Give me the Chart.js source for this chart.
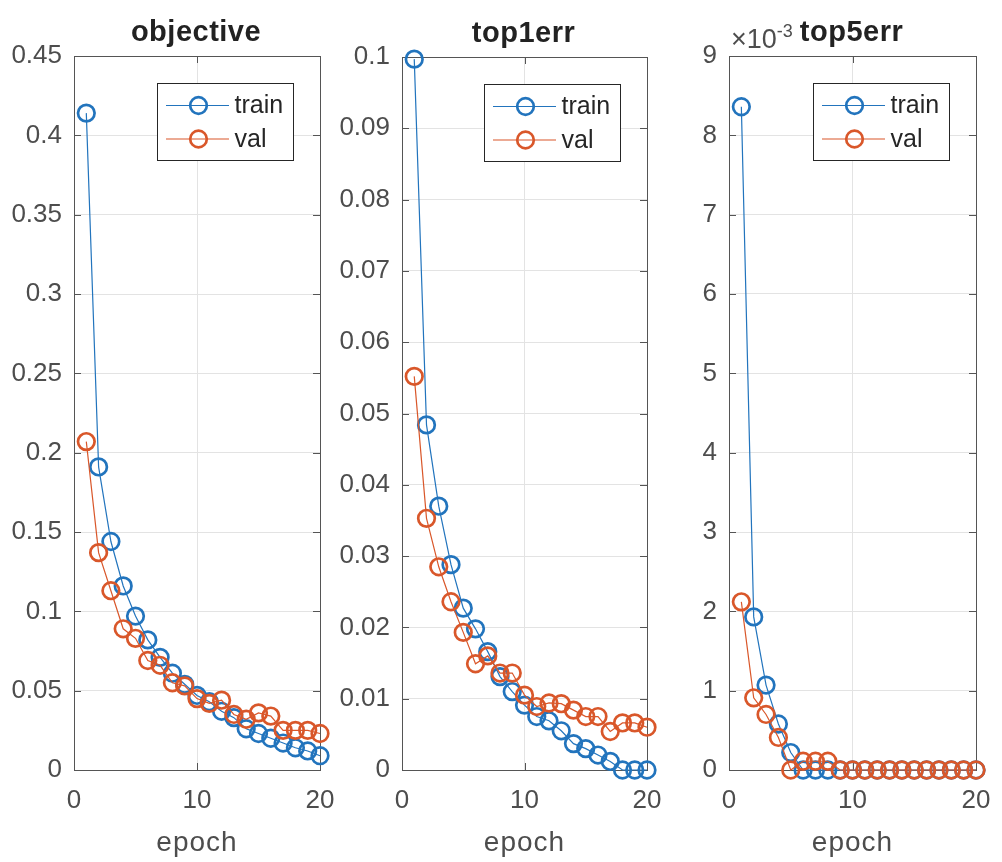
<!DOCTYPE html>
<html>
<head>
<meta charset="utf-8">
<title>objective / top1err / top5err</title>
<script src="https://cdn.jsdelivr.net/npm/chart.js@4.4.1/dist/chart.umd.min.js"></script>
<style>
  html, body { margin: 0; padding: 0; background: #fff; }
  #wrap { position: relative; width: 1002px; height: 862px; overflow: hidden; }
  canvas { position: absolute; top: 0; left: 0; }
</style>
</head>
<body>
<div id="wrap">
  <canvas id="objective" width="1002" height="862"></canvas>
  <canvas id="top1err" width="1002" height="862"></canvas>
  <canvas id="top5err" width="1002" height="862"></canvas>
</div>
<script>
// data
const epochs = [1, 2, 3, 4, 5, 6, 7, 8, 9, 10, 11, 12, 13, 14, 15, 16, 17, 18, 19, 20]
const seriesNames = ['train', 'val']
const xTicks = [0, 10, 20]

const objectiveTrain = [0.414, 0.191, 0.144, 0.116, 0.097, 0.082, 0.071, 0.061, 0.054, 0.047,
                        0.043, 0.037, 0.033, 0.026, 0.023, 0.020, 0.017, 0.014, 0.012, 0.009]
const objectiveVal = [0.207, 0.137, 0.113, 0.089, 0.083, 0.069, 0.066, 0.055, 0.053, 0.045,
                      0.042, 0.044, 0.035, 0.032, 0.036, 0.034, 0.025, 0.025, 0.025, 0.023]
const objectiveTicks = [0, 0.05, 0.1, 0.15, 0.2, 0.25, 0.3, 0.35, 0.4, 0.45]

const top1Train = [0.0997, 0.0484, 0.0370, 0.0288, 0.0227, 0.0198, 0.0166, 0.0131, 0.0110, 0.0091,
                   0.0075, 0.0069, 0.0055, 0.0037, 0.0030, 0.0021, 0.0012, 0, 0, 0]
const top1Val = [0.0552, 0.0353, 0.0285, 0.0236, 0.0193, 0.0149, 0.0160, 0.0136, 0.0136, 0.0105,
                 0.0089, 0.0094, 0.0093, 0.0084, 0.0075, 0.0075, 0.0054, 0.0066, 0.0066, 0.0060]
const top1Ticks = [0, 0.01, 0.02, 0.03, 0.04, 0.05, 0.06, 0.07, 0.08, 0.09, 0.1]

const top5Train = [0.00836, 0.00193, 0.00107, 0.00058, 0.00022, 0, 0, 0, 0, 0,
                   0, 0, 0, 0, 0, 0, 0, 0, 0, 0]
const top5Val = [0.00212, 0.00091, 0.00070, 0.00041, 0, 0.00011, 0.00011, 0.00011, 0, 0,
                 0, 0, 0, 0, 0, 0, 0, 0, 0, 0]
const top5Ticks = [0, 0.001, 0.002, 0.003, 0.004, 0.005, 0.006, 0.007, 0.008, 0.009]

const FONT = '"Liberation Sans", Arial, Helvetica, sans-serif'
const BLUE = '#2274bd'
const ORANGE = '#d9572a'
const AXIS = '#555555'
const TEXT = '#4d4d4d'
const DARK = '#262626'
const PAGE_W = 1002
const PAGE_H = 862

// draws the matlab look: box, inward ticks, title, xlabel, legend, exponent
const matlabAxes = {
    id: 'matlabAxes',
    beforeDatasetsDraw(chart, args, opts) {
        const { ctx, chartArea: a, scales } = chart
        const px = v => Math.round(v) + 0.5
        ctx.save()
        ctx.strokeStyle = AXIS
        ctx.lineWidth = 1
        ctx.beginPath()
        for (const t of scales.y.ticks) {
            const y = px(scales.y.getPixelForValue(t.value))
            ctx.moveTo(a.left, y); ctx.lineTo(a.left + 7, y)
            ctx.moveTo(a.right, y); ctx.lineTo(a.right - 7, y)
        }
        for (const t of scales.x.ticks) {
            const x = px(scales.x.getPixelForValue(t.value))
            ctx.moveTo(x, a.bottom); ctx.lineTo(x, a.bottom - 7)
            ctx.moveTo(x, a.top); ctx.lineTo(x, a.top + 7)
        }
        ctx.stroke()
        ctx.strokeRect(px(a.left), px(a.top), Math.round(a.right - a.left), Math.round(a.bottom - a.top))
        ctx.restore()
    },
    afterDraw(chart, args, opts) {
        const { ctx, chartArea: a } = chart
        const cx = (a.left + a.right) / 2
        ctx.save()

        // title
        ctx.fillStyle = '#222'
        ctx.font = 'bold 29px ' + FONT
        ctx.letterSpacing = '0.5px'
        ctx.textAlign = 'center'
        ctx.textBaseline = 'alphabetic'
        ctx.fillText(opts.title, cx - 1, a.top - 15)

        // x label
        ctx.fillStyle = TEXT
        ctx.font = '28px ' + FONT
        ctx.letterSpacing = '1px'
        ctx.fillText('epoch', cx, 851)
        ctx.letterSpacing = '0px'

        // exponent
        if (opts.exponent) {
            ctx.textAlign = 'left'
            ctx.font = '27px ' + FONT
            ctx.fillText('\u00d710', a.left + 2, 48)
            const w = ctx.measureText('\u00d710').width
            ctx.font = '18px ' + FONT
            ctx.fillText(opts.exponent, a.left + 2 + w, 37)
        }

        // legend, northeast
        const lw = 136, lh = 77
        const lx = Math.round(a.right - 27 - lw) + 0.5
        const ly = Math.round(a.top + 26.5) + 0.5
        ctx.fillStyle = '#fff'
        ctx.fillRect(lx, ly, lw, lh)
        ctx.strokeStyle = DARK
        ctx.lineWidth = 1
        ctx.strokeRect(lx, ly, lw, lh)
        chart.data.datasets.forEach((ds, i) => {
            const y = ly + 22 + i * 33.5
            ctx.strokeStyle = ds.borderColor
            ctx.lineWidth = 1.2
            ctx.beginPath()
            ctx.moveTo(lx + 8.5, y); ctx.lineTo(lx + 71.5, y)
            ctx.stroke()
            ctx.lineWidth = ds.pointBorderWidth
            ctx.beginPath()
            ctx.arc(lx + 41, y, ds.pointRadius, 0, Math.PI * 2)
            ctx.stroke()
            ctx.fillStyle = DARK
            ctx.font = '25px ' + FONT
            ctx.textAlign = 'left'
            ctx.textBaseline = 'middle'
            ctx.fillText(ds.label, lx + 77, y + 1)
        })
        ctx.restore()
    }
}

const makeDataset = (label, values, color, order) => {
    return {
        label: label,
        data: values,
        borderColor: color,
        backgroundColor: color,
        borderWidth: 1.2,
        tension: 0,
        pointStyle: 'circle',
        pointRadius: 8.3,
        pointBorderWidth: 2.7,
        pointBackgroundColor: 'rgba(0,0,0,0)',
        pointBorderColor: color,
        clip: false,
        order: order,
    }
}

// every canvas covers the whole page, the axes box is placed with paddings
const makePanel = (id, train, val, yTicks, box, title, labelFn, exponent) => {
    const ctx = document.getElementById(id)
    return new Chart(ctx, {
        type: 'line',
        data: {
            labels: epochs,
            datasets: [
                makeDataset(seriesNames[0], train, BLUE, 2),
                makeDataset(seriesNames[1], val, ORANGE, 1),
            ]
        },
        options: {
            responsive: false,
            animation: false,
            events: [],
            layout: {
                autoPadding: false,
                padding: { left: 0, top: box.top, right: PAGE_W - box.right, bottom: 0 }
            },
            scales: {
                x: {
                    type: 'linear',
                    min: 0,
                    max: 20,
                    afterBuildTicks: s => { s.ticks = xTicks.map(v => ({ value: v })) },
                    afterFit: s => {
                        s.height = PAGE_H - box.bottom
                        s.paddingLeft = 0
                        s.paddingRight = 0
                    },
                    grid: { color: '#e3e3e3', drawTicks: false },
                    border: { display: false },
                    ticks: {
                        padding: 15,
                        maxRotation: 0,
                        color: TEXT,
                        font: { family: FONT, size: 26 },
                        callback: v => String(v)
                    }
                },
                y: {
                    type: 'linear',
                    min: yTicks[0],
                    max: yTicks[yTicks.length - 1],
                    afterBuildTicks: s => { s.ticks = yTicks.map(v => ({ value: v })) },
                    afterFit: s => {
                        s.width = box.left
                        s.paddingTop = 0
                        s.paddingBottom = 0
                    },
                    grid: { color: '#e3e3e3', drawTicks: false },
                    border: { display: false },
                    ticks: {
                        padding: 12,
                        color: TEXT,
                        font: { family: FONT, size: 26 },
                        callback: labelFn
                    }
                }
            },
            plugins: {
                legend: { display: false },
                tooltip: { enabled: false },
                matlabAxes: { title: title, exponent: exponent }
            }
        },
        plugins: [matlabAxes]
    })
}

const decimalLabel = v => String(+v.toFixed(4))

makePanel('objective', objectiveTrain, objectiveVal, objectiveTicks,
    { left: 74, right: 320, top: 56, bottom: 770 }, 'objective', decimalLabel)
makePanel('top1err', top1Train, top1Val, top1Ticks,
    { left: 402, right: 647, top: 57, bottom: 770 }, 'top1err', decimalLabel)
makePanel('top5err', top5Train, top5Val, top5Ticks,
    { left: 729, right: 976, top: 56, bottom: 770 }, 'top5err', v => String(Math.round(v * 1000)), '-3')
</script>
</body>
</html>
